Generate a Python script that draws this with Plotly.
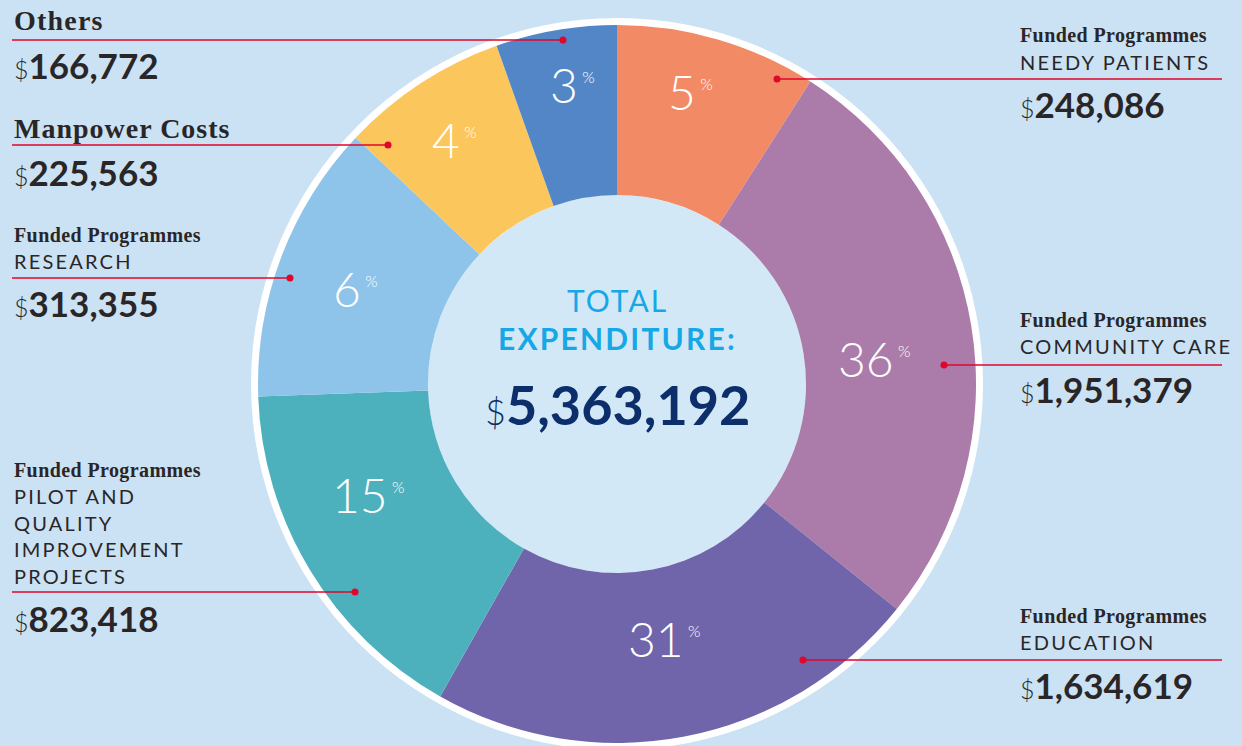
import plotly.graph_objects as go

# ---------------- data ----------------
categories = ["Needy Patients", "Community Care", "Education",
              "Pilot and Quality Improvement Projects", "Research",
              "Manpower Costs", "Others"]
amounts = [248086, 1951379, 1634619, 823418, 313355, 225563, 166772]
pct_labels = ["5", "36", "31", "15", "6", "4", "3"]
# slice sizes as actually drawn in the reference graphic (degrees of arc)
drawn_arc_degrees = [32.6, 96.2, 80.7, 58.5, 45.3, 27.1, 19.6]
total_label = "5,363,192"

# ---------------- style / layout constants ----------------
W, H = 1242, 746
BG = "#cbe2f4"
CENTER_BG = "#d3e8f6"
colors = ["#f28a66", "#ab7ba9", "#7064aa", "#4db1bd", "#8ec4ea", "#fbc65b", "#5386c6"]
CX, CY, R, RING, HOLE = 617, 384, 359, 366, 189
RED = "#e1062c"
DARK = "#2a2627"


def px(x):
    return x / W


def py(y):
    return 1 - y / H


fig = go.Figure()
fig.add_trace(go.Pie(
    values=drawn_arc_degrees, labels=categories, sort=False, direction="clockwise",
    rotation=0, hole=HOLE / R, textinfo="none",
    customdata=amounts, hovertemplate="%{label}<br>$%{customdata:,}<extra></extra>",
    marker=dict(colors=colors, line=dict(width=0)),
    domain=dict(x=[px(CX - R), px(CX + R)], y=[py(CY + R), py(CY - R)]),
    showlegend=False,
))

shapes = []
# white outer ring and lighter centre disc
shapes.append(dict(type="circle", xref="paper", yref="paper", layer="below",
                   x0=px(CX - RING), x1=px(CX + RING), y0=py(CY + RING), y1=py(CY - RING),
                   fillcolor="white", line=dict(width=0)))
shapes.append(dict(type="circle", xref="paper", yref="paper", layer="below",
                   x0=px(CX - HOLE), x1=px(CX + HOLE), y0=py(CY + HOLE), y1=py(CY - HOLE),
                   fillcolor=CENTER_BG, line=dict(width=0)))

annotations = []


def ann(x, y, text, size, color=DARK, family="Lato", weight=400, xanchor="left"):
    annotations.append(dict(x=px(x), y=py(y), xref="paper", yref="paper", text=text,
                            showarrow=False, xanchor=xanchor, yanchor="middle",
                            font=dict(size=size, color=color, family=family, weight=weight)))


def spaced(text, ls):
    return '<span style="letter-spacing:%spx">%s</span>' % (ls, text)


def callout(y, x_from, x_to, dot_x):
    shapes.append(dict(type="line", xref="paper", yref="paper", layer="above",
                       x0=px(x_from), x1=px(x_to), y0=py(y), y1=py(y),
                       line=dict(color=RED, width=1.5)))
    r = 3.5
    shapes.append(dict(type="circle", xref="paper", yref="paper", layer="above",
                       x0=px(dot_x - r), x1=px(dot_x + r), y0=py(y + r), y1=py(y - r),
                       fillcolor=RED, line=dict(width=0)))


def amount_text(v):
    return ('<span style="font-size:25px;font-weight:300">$</span>'
            '<b>{:,}</b>'.format(v))


SERIF = "Liberation Serif"
SANS = "Lato"
FP = "<b>" + spaced("Funded Programmes", 0.4) + "</b>"
AMT = 35
CAT = 20
CAT_LS = 2.2

# ---- left labels ----
ann(12, 20, "<b>" + spaced("Others", 1.2) + "</b>", 28, family=SERIF)
callout(40, 12, 563, 563)
ann(12, 65, amount_text(amounts[6]), AMT, family=SANS)

ann(12, 128, "<b>" + spaced("Manpower Costs", 1.0) + "</b>", 28, family=SERIF)
callout(145, 12, 388, 388)
ann(12, 172, amount_text(amounts[5]), AMT, family=SANS)

ann(12, 235, FP, 20, family=SERIF)
ann(12, 261, spaced("RESEARCH", CAT_LS), CAT, family=SANS)
callout(278, 12, 290, 290)
ann(12, 303, amount_text(amounts[4]), AMT, family=SANS)

ann(12, 470, FP, 20, family=SERIF)
for i, line in enumerate(["PILOT AND", "QUALITY", "IMPROVEMENT", "PROJECTS"]):
    ann(12, 496 + i * 26.7, spaced(line, CAT_LS), CAT, family=SANS)
callout(592, 12, 355, 355)
ann(12, 618, amount_text(amounts[3]), AMT, family=SANS)

# ---- right labels ----
ann(1018, 35, FP, 20, family=SERIF)
ann(1018, 62, spaced("NEEDY PATIENTS", CAT_LS), CAT, family=SANS)
callout(79, 777, 1222, 777)
ann(1018, 104, amount_text(amounts[0]), AMT, family=SANS)

ann(1018, 321, FP, 20, family=SERIF)
ann(1018, 346, spaced("COMMUNITY CARE", CAT_LS), CAT, family=SANS)
callout(365, 944, 1222, 944)
ann(1018, 389, amount_text(amounts[1]), AMT, family=SANS)

ann(1018, 616, FP, 20, family=SERIF)
ann(1018, 642, spaced("EDUCATION", CAT_LS), CAT, family=SANS)
callout(660, 803, 1222, 803)
ann(1018, 685, amount_text(amounts[2]), AMT, family=SANS)

# ---- percentage labels inside slices ----
pct_pos = [(690, 92), (874, 358), (664, 638), (368, 494), (355, 289), (454, 139), (572, 85)]
for lab, (x, y) in zip(pct_labels, pct_pos):
    ann(x, y, lab + '<sup><span style="font-size:16px"> %</span></sup>', 48,
        color="white", family=SANS, weight=300, xanchor="center")

# ---- centre text ----
ann(CX, 300, spaced("TOTAL", 2), 30, color="#16a8e6", family=SANS, weight=400, xanchor="center")
ann(CX, 338, "<b>" + spaced("EXPENDITURE:", 2.2) + "</b>", 30, color="#16a8e6",
    family=SANS, xanchor="center")
ann(CX, 404, '<span style="font-size:36px;font-weight:300">$</span><b>' + total_label + "</b>",
    54, color="#0c2f6b", family=SANS, xanchor="center")

fig.update_layout(
    width=W, height=H, margin=dict(l=0, r=0, t=0, b=0),
    paper_bgcolor=BG, plot_bgcolor=BG,
    shapes=shapes, annotations=annotations, showlegend=False,
)

fig.write_html("out.html", config={"displayModeBar": False},
               post_script="document.body.style.margin='0px';")
